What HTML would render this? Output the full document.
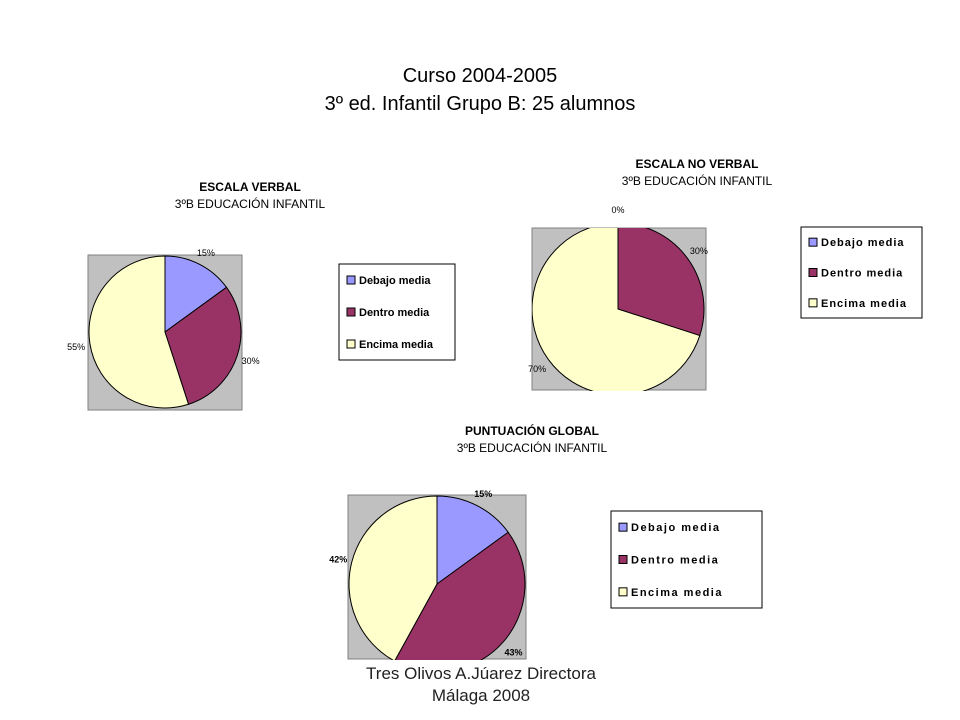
<!DOCTYPE html>
<html><head><meta charset="utf-8">
<style>
body{margin:0;background:#fff;width:960px;height:720px;overflow:hidden;font-family:"Liberation Sans",sans-serif;}
svg{display:block}
</style></head>
<body>
<svg id="s" width="960" height="720" viewBox="0 0 960 720">
<g font-size="20" text-anchor="middle" fill="#000">
<text x="480" y="82">Curso 2004-2005</text>
<text x="480" y="110">3º ed. Infantil  Grupo B: 25 alumnos</text>
</g>
<g font-size="17" text-anchor="middle" fill="#222">
<text x="481" y="679">Tres Olivos A.Júarez Directora</text>
<text x="481" y="701">Málaga 2008</text>
</g>
</svg>
<script>
const categories = ["Debajo media","Dentro media","Encima media"];
const verbalValues = [15,30,55];
const noVerbalValues = [0,30,70];
const globalValues = [15,43,42];
const verbalLabels = ["15%","30%","55%"];
const noVerbalLabels = ["0%","30%","70%"];
const globalLabels = ["15%","43%","42%"];
const colors = ["#9999ff","#993366","#ffffcc"];
const NS="http://www.w3.org/2000/svg";
const svg=document.getElementById('s');
function mk(tag,attrs,parent){const e=document.createElementNS(NS,tag);for(const k in attrs)e.setAttribute(k,attrs[k]);(parent||svg).appendChild(e);return e;}
function drawChart(cfg){
  const g=mk('g',{});
  
  
  const t1=mk('text',{x:cfg.tx,y:cfg.ty,'text-anchor':'middle','font-size':12,'font-weight':'bold'},g);
  t1.textContent=cfg.title;
  
  
  const t2=mk('text',{x:cfg.tx,y:cfg.ty+17,'text-anchor':'middle','font-size':12},g);
  t2.textContent="3ºB EDUCACIÓN INFANTIL";
  
  
  const cid='clip'+cfg.name;
  const cp=mk('clipPath',{id:cid},g);
  mk('rect',{x:cfg.box[0],y:cfg.box[1],width:cfg.box[2]-cfg.box[0],height:cfg.box[3]-cfg.box[1]+1},cp);
  const bg=mk('rect',{x:cfg.box[0],y:cfg.box[1],width:cfg.box[2]-cfg.box[0],height:cfg.box[3]-cfg.box[1],fill:'#c0c0c0',stroke:'#808080','stroke-width':1},g);
  
  
  const pg=mk('g',{'clip-path':'url(#'+cid+')'},g);
  const total=cfg.values.reduce((a,b)=>a+b,0);
  let a0=0;
  const cx=cfg.cx,cy=cfg.cy,r=cfg.r;
  const pt=(a,rr)=>[cx+rr*Math.sin(a*2*Math.PI),cy-rr*Math.cos(a*2*Math.PI)];
  cfg.values.forEach((v,i)=>{
    const f=v/total;const a1=a0+f;
    if(f>0){
      const p0=pt(a0,r),p1=pt(a1,r);
      let d;
      if(f>=0.9999) d=`M${cx-r},${cy}A${r},${r} 0 1 1 ${cx+r},${cy}A${r},${r} 0 1 1 ${cx-r},${cy}Z`;
      else d=`M${cx},${cy}L${p0[0]},${p0[1]}A${r},${r} 0 ${f>0.5?1:0} 1 ${p1[0]},${p1[1]}Z`;
      const s=mk('path',{d:d,fill:colors[i],stroke:'#000','stroke-width':1},pg);
      
      
    }
    const m=(a0+a1)/2;const lp=pt(m,r+14);
    const lt=mk('text',{x:lp[0],y:lp[1]+4,'text-anchor':'middle','font-size':cfg.lfs,'font-weight':cfg.lbold?'bold':'normal'},g);
    lt.textContent=cfg.labels[i];
    
    
    a0=a1;
  });
  const L=cfg.leg;
  const lg=mk('g',{},g);
  
  
  mk('rect',{x:L[0],y:L[1],width:L[2],height:L[3],fill:'#fff',stroke:'#000','stroke-width':1},lg);
  const step=L[3]/3;
  categories.forEach((c,i)=>{
    const y=L[1]+step*(i+0.5);
    const e=mk('g',{},lg);
    
    
    mk('rect',{x:L[0]+8,y:y-4,width:8,height:8,fill:colors[i],stroke:'#000','stroke-width':1},e);
    const tx=mk('text',{x:L[0]+20,y:y+4,'font-size':cfg.legfs,'font-weight':'bold','letter-spacing':cfg.ls},e);
    tx.textContent=c;
  });
}
drawChart({name:'escala-verbal-chart',title:'ESCALA VERBAL',tx:250,ty:191,box:[88,255,242,410],cx:165,cy:332,r:76,values:verbalValues,labels:verbalLabels,leg:[339,264,116,96],lfs:9,lbold:false,legfs:11,ls:0});
drawChart({name:'escala-no-verbal-chart',title:'ESCALA NO VERBAL',tx:697,ty:168,box:[532,228,706,390],cx:618,cy:309,r:86,values:noVerbalValues,labels:noVerbalLabels,leg:[801,227,121,91],lfs:9,lbold:false,legfs:11,ls:1});
drawChart({name:'puntuacion-global-chart',title:'PUNTUACIÓN GLOBAL',tx:532,ty:435,box:[348,495,526,659],cx:437,cy:584,r:88,values:globalValues,labels:globalLabels,leg:[611,511,151,97],lfs:9,lbold:true,legfs:11,ls:1.5});
</script>
</body></html>
